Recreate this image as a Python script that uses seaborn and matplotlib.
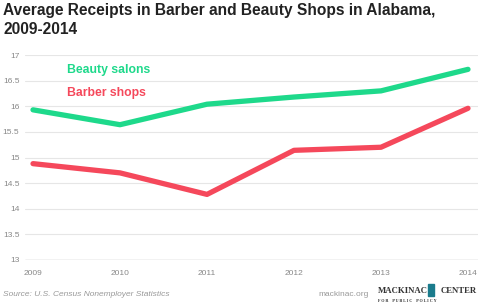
import matplotlib
matplotlib.use("Agg")
import matplotlib.pyplot as plt
import seaborn as sns
import pandas as pd

years = [2009, 2010, 2011, 2012, 2013, 2014]
beauty = [15.93, 15.64, 16.04, 16.18, 16.30, 16.72]
barber = [14.88, 14.70, 14.28, 15.14, 15.20, 15.96]
yticks = [13, 13.5, 14, 14.5, 15, 15.5, 16, 16.5, 17]
ytick_labels = ["13", "13.5", "14", "14.5", "15", "15.5", "16", "16.5", "17"]

df = pd.DataFrame({"year": years * 2,
                   "value": beauty + barber,
                   "series": ["Beauty salons"] * 6 + ["Barber shops"] * 6})

sns.set_theme(style="white")
plt.rcParams['font.family'] = ['Liberation Sans', 'DejaVu Sans']

green = "#1ed98b"
red = "#f5485b"

fig = plt.figure(figsize=(4.8, 3.08), dpi=100)
ax = fig.add_axes([25/480, 1-260/308, 453/480, 205/308])

sns.lineplot(data=df, x="year", y="value", hue="series",
             palette={"Beauty salons": green, "Barber shops": red},
             linewidth=3.8, legend=False, ax=ax,
             solid_capstyle="round", solid_joinstyle="round")

ax.set_ylim(13, 17)
ax.set_xlim(2008.908, 2014.115)
ax.set_yticks(yticks)
ax.set_yticklabels(ytick_labels)
ax.set_xticks(years)
ax.set_xticklabels([str(y) for y in years])
for y in yticks[1:]:
    ax.axhline(y, color="#e6e6e6", lw=0.8, zorder=0)
ax.axhline(13, color="#999999", lw=0.9, zorder=0)
for s in ax.spines.values():
    s.set_visible(False)
ax.set_xlabel("")
ax.set_ylabel("")
ax.tick_params(axis="both", length=0, labelsize=6, labelcolor="#888888")
ax.tick_params(axis="y", pad=4)
ax.tick_params(axis="x", pad=7)

fig.text(67/480, 1-70/308, "Beauty salons",
         color=green, fontsize=8.8, fontweight="bold", va="center", ha="left")
fig.text(67/480, 1-93/308, "Barber shops",
         color=red, fontsize=8.8, fontweight="bold", va="center", ha="left")

fig.text(3/480, 1-3/308, "Average Receipts in Barber and Beauty Shops in Alabama,\n2009-2014",
         fontsize=11.2, fontweight="bold", color="#222222", va="top", ha="left",
         linespacing=1.3)

fig.text(3/480, 1-295/308, "Source: U.S. Census Nonemployer Statistics",
         fontsize=6, style="italic", color="#999999", va="center", ha="left")
fig.text(318/480, 1-295/308, "mackinac.org", fontsize=6, color="#999999",
         va="center", ha="left")
fig.text(378/480, 1-291/308, "MACKINAC", family=['Liberation Serif', 'DejaVu Serif'],
         fontsize=6.3, fontweight="bold", color="#333333", va="center", ha="left")
fig.text(477/480, 1-291/308, "CENTER", family=['Liberation Serif', 'DejaVu Serif'],
         fontsize=6.3, fontweight="bold", color="#333333", va="center", ha="right")
fig.text(378/480, 1-301/308, "F O R    P U B L I C    P O L I C Y", family=['Liberation Serif', 'DejaVu Serif'],
         fontsize=3, fontweight="bold", color="#333333", va="center", ha="left")
fig.patches.append(plt.Rectangle((428/480, 1-296/308), 6/480, 12/308,
                                 transform=fig.transFigure, color="#1a7b8c"))

fig.savefig("out.png", dpi=100)
